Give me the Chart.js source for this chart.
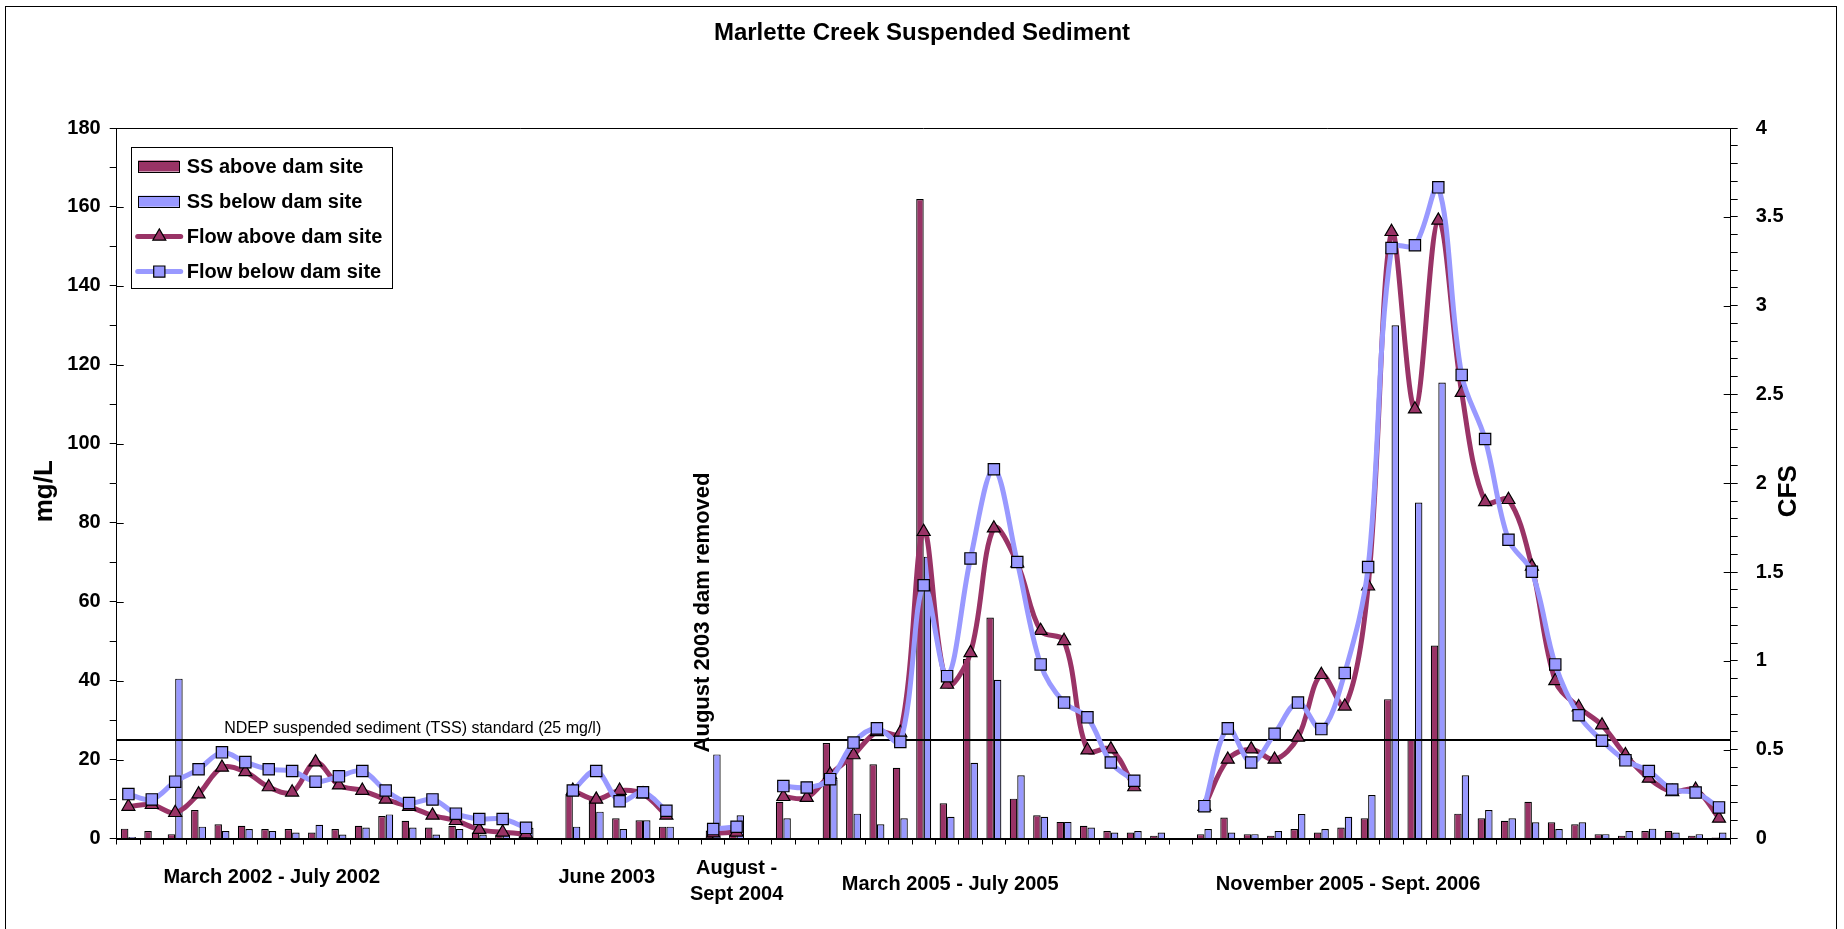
<!DOCTYPE html>
<html>
<head>
<meta charset="utf-8">
<title>Marlette Creek Suspended Sediment</title>
<script src="https://cdn.jsdelivr.net/npm/chart.js@4.4.1/dist/chart.umd.min.js"></script>
<style>
  html, body { margin: 0; padding: 0; background: #fff; }
  canvas { display: block; }
</style>
</head>
<body>
<canvas id="chart" width="1844" height="929"></canvas>
<script>
// ---- Data -------------------------------------------------------------
// One slot per sampling event; null marks the blank slots between seasons.
const sampleNo = Array.from({ length: 69 }, (_, i) => String(i + 1));

// Suspended sediment, mg/L
const ssAbove = [
  2.5, 1.9, 1.1, 7.2, 3.6, 3.2, 2.4, 2.4, 1.5, 2.4, 3.2, 5.7, 4.5, 2.8, 3.2, 1.5, 1.0, 1.0,
  null,
  11.0, 10.6, 5.1, 4.6, 3.0,
  null,
  2.0, 1.7,
  null,
  9.3, null, 24.2, 22.4, 18.8, 17.9, 162, 8.9, 45.5, 56.0, 10.1, 5.9, 4.2, 3.2, 1.9, 1.5, 0.7,
  null,
  1.1, 5.3, 1.1, 0.7, 2.4, 1.5, 2.8, 5.1, 35.3, 25.1, 48.9, 6.3, 5.1, 4.5, 9.3, 4.1, 3.6,
  1.1, 0.7, 1.9, 1.9, 0.7, 0.25
];
const ssBelow = [
  0.4, null, 40.5, 3.0, 1.9, 2.4, 1.9, 1.5, 3.5, 1.0, 2.8, 6.1, 2.8, 1.0, 2.4, 1.0, 1.0, 2.7,
  null,
  3.0, 6.8, 2.4, 4.6, 3.0,
  null,
  21.3, 5.9,
  null,
  5.1, null, 15.0, 6.3, 3.6, 5.1, 71.4, 5.5, 19.2, 40.2, 16.0, 5.5, 4.2, 2.8, 1.5, 1.9, 1.5,
  null,
  2.4, 1.5, 1.1, 1.9, 6.2, 2.4, 5.5, 11.0, 130.0, 85.1, 115.5, 16.0, 7.2, 5.1, 4.1, 2.4, 4.1,
  1.1, 1.9, 2.5, 1.5, 1.1, 1.5
];

// Stream flow, CFS
const flowAbove = [
  0.18, 0.19, 0.145, 0.25, 0.40, 0.375, 0.29, 0.26, 0.43, 0.30, 0.27, 0.22, 0.18, 0.13, 0.10, 0.05, 0.035, 0.025,
  null,
  0.27, 0.22, 0.27, 0.25, 0.13,
  null,
  0.03, 0.035,
  null,
  0.235, 0.23, 0.36, 0.47, 0.60, 0.595, 1.727, 0.867, 1.045, 1.747, 1.55, 1.17, 1.113, 0.497, 0.503, 0.29, null,
  null,
  0.18, 0.445, 0.503, 0.445, 0.569, 0.922, 0.744, 1.42, 3.416, 2.417, 3.48, 2.51, 1.895, 1.907, 1.532, 0.887, 0.74,
  0.638, 0.47, 0.338, 0.263, 0.276, 0.113
];
const flowBelow = [
  0.25, 0.22, 0.32, 0.39, 0.485, 0.43, 0.39, 0.38, 0.32, 0.35, 0.38, 0.27, 0.20, 0.22, 0.14, 0.11, 0.11, 0.06,
  null,
  0.27, 0.38, 0.21, 0.26, 0.156,
  null,
  0.053, 0.066,
  null,
  0.295, 0.287, 0.334, 0.54, 0.62, 0.544, 1.426, 0.914, 1.577, 2.079, 1.557, 0.98, 0.765, 0.682, 0.428, 0.325, null,
  null,
  0.182, 0.62, 0.428, 0.59, 0.765, 0.616, 0.932, 1.528, 3.324, 3.34, 3.666, 2.61, 2.249, 1.682, 1.502, 0.98, 0.694,
  0.55, 0.44, 0.38, 0.276, 0.259, 0.175
];

// Captions under the category axis, one per field season
const periodLabels = [
  ['March 2002 - July 2002'],
  ['June 2003'],
  ['August -', 'Sept 2004'],
  ['March 2005 - July 2005'],
  ['November 2005 - Sept. 2006']
];

// Axis tick labels
const mgTickLabels = ['0', '20', '40', '60', '80', '100', '120', '140', '160', '180'];
const cfsTickLabels = ['0', '0.5', '1', '1.5', '2', '2.5', '3', '3.5', '4'];

const ndepStandard = 25;   // mg/L
const ndepLabel = 'NDEP suspended sediment (TSS) standard (25 mg/l)';
const damNote = 'August 2003 dam removed';

// ---- Layout & style ---------------------------------------------------
const MAROON = '#993366';
const PERI = '#9999FF';
const FONT = '"Liberation Sans", Arial, Helvetica, sans-serif';

// where each caption sits: category slot and offset below the axis (px)
const periodLayout = [
  { slot: 6.13, rows: [38.5] },
  { slot: 20.45, rows: [38.5] },
  { slot: 26.0, rows: [29.5, 55.5] },
  { slot: 35.13, rows: [45.5] },
  { slot: 52.14, rows: [45.5] }
];

const mgTickValues = mgTickLabels.map(Number);
const cfsTickValues = cfsTickLabels.map(Number);

function nearly(v, list) {
  return list.findIndex(t => Math.abs(t - v) < 1e-6);
}

// white page with a thin frame round the chart object
const backdrop = {
  id: 'backdrop',
  beforeDraw(chart) {
    const { ctx, width, height } = chart;
    ctx.save();
    ctx.fillStyle = '#fff';
    ctx.fillRect(0, 0, width, height);
    ctx.strokeStyle = '#000';
    ctx.lineWidth = 1;
    ctx.strokeRect(5.5, 6.5, width - 13, height + 20);
    ctx.restore();
  }
};

// horizontal standard line: above the bars, below the flow lines
const standardLine = {
  id: 'standardLine',
  beforeDatasetDraw(chart, args) {
    if (args.index !== 2) return;
    const { ctx, chartArea: a, scales: { y } } = chart;
    const py = Math.round(y.getPixelForValue(ndepStandard));
    ctx.save();
    ctx.strokeStyle = '#000';
    ctx.lineWidth = 2;
    ctx.beginPath();
    ctx.moveTo(a.left, py);
    ctx.lineTo(a.right, py);
    ctx.stroke();
    ctx.fillStyle = '#000';
    ctx.font = '16px ' + FONT;
    ctx.textAlign = 'left';
    ctx.textBaseline = 'alphabetic';
    ctx.fillText(ndepLabel, a.left + 107.5, py - 7);
    ctx.restore();
  }
};

function drawMarker(ctx, style, x, y, fill) {
  ctx.save();
  ctx.fillStyle = fill;
  ctx.strokeStyle = '#000';
  ctx.lineWidth = 1.2;
  ctx.beginPath();
  if (style === 'triangle') {
    const r = 7.5;
    ctx.moveTo(x, y - r);
    ctx.lineTo(x + r * 0.866, y + r / 2);
    ctx.lineTo(x - r * 0.866, y + r / 2);
    ctx.closePath();
  } else {
    const h = 5.6;
    ctx.rect(x - h, y - h, 2 * h, 2 * h);
  }
  ctx.fill();
  ctx.stroke();
  ctx.restore();
}

// plot frame top, inner halves of major ticks, axis titles, notes, captions, legend
const decorations = {
  id: 'decorations',
  afterDraw(chart) {
    const { ctx, chartArea: a, scales: { x, y, y1 } } = chart;
    ctx.save();
    ctx.strokeStyle = '#000';
    ctx.lineWidth = 1;
    ctx.beginPath();
    ctx.moveTo(a.left, Math.round(a.top) + 0.5);
    ctx.lineTo(a.right, Math.round(a.top) + 0.5);
    for (const v of mgTickValues) {
      const py = Math.round(y.getPixelForValue(v)) + 0.5;
      ctx.moveTo(a.left, py);
      ctx.lineTo(a.left + 7, py);
    }
    for (const v of cfsTickValues) {
      const py = Math.round(y1.getPixelForValue(v)) + 0.5;
      ctx.moveTo(a.right - 7, py);
      ctx.lineTo(a.right, py);
    }
    ctx.stroke();

    ctx.fillStyle = '#000';
    ctx.textAlign = 'center';
    ctx.textBaseline = 'middle';
    const midY = (a.top + a.bottom) / 2;

    // axis titles, both read bottom to top
    ctx.font = 'bold 26px ' + FONT;
    ctx.save();
    ctx.translate(45, midY + 8);
    ctx.rotate(-Math.PI / 2);
    ctx.fillText('mg/L', 0, 0);
    ctx.restore();
    ctx.save();
    ctx.translate(1789, midY + 8);
    ctx.rotate(-Math.PI / 2);
    ctx.fillText('CFS', 0, 0);
    ctx.restore();

    // dam removal note, vertical
    ctx.save();
    ctx.font = 'bold 22px ' + FONT;
    ctx.translate(x.getPixelForValue(24.55), y.getPixelForValue(21.8));
    ctx.rotate(-Math.PI / 2);
    ctx.textAlign = 'left';
    ctx.fillText(damNote, 0, 0);
    ctx.restore();

    // season captions
    ctx.font = 'bold 20px ' + FONT;
    periodLabels.forEach((lines, i) => {
      const lay = periodLayout[i];
      const px = x.getPixelForValue(lay.slot);
      lines.forEach((t, j) => ctx.fillText(t, px, a.bottom + lay.rows[j]));
    });

    // legend
    const bx = a.left + 14, by = a.top + 19.3, bw = 261, bh = 141;
    ctx.fillStyle = '#fff';
    ctx.fillRect(bx, by, bw, bh);
    ctx.strokeStyle = '#000';
    ctx.lineWidth = 1;
    ctx.strokeRect(Math.round(bx) + 0.5, Math.round(by) + 0.5, bw, bh);
    ctx.font = 'bold 20px ' + FONT;
    ctx.textAlign = 'left';
    chart.data.datasets.forEach((ds, i) => {
      const cy = by + 18.7 + 35.2 * i;
      if (ds.type === 'bar') {
        ctx.fillStyle = ds.backgroundColor;
        ctx.fillRect(bx + 7.5, cy - 5.5, 41, 11);
        ctx.strokeStyle = '#000';
        ctx.lineWidth = 1;
        ctx.strokeRect(Math.round(bx + 7.5) + 0.5, Math.round(cy - 5.5) + 0.5, 41, 11);
      } else {
        ctx.strokeStyle = ds.borderColor;
        ctx.lineWidth = 5;
        ctx.lineCap = 'round';
        ctx.beginPath();
        ctx.moveTo(bx + 7, cy);
        ctx.lineTo(bx + 50, cy);
        ctx.stroke();
        drawMarker(ctx, ds.pointStyle, bx + 28.6, cy, ds.pointBackgroundColor);
      }
      ctx.fillStyle = '#000';
      ctx.fillText(ds.label, bx + 56, cy + 1);
    });
    ctx.restore();
  }
};

const tickFont = { family: FONT, size: 20, weight: 'bold' };

new Chart(document.getElementById('chart'), {
  type: 'bar',
  data: {
    labels: sampleNo,
    datasets: [
      {
        type: 'bar', label: 'SS above dam site', data: ssAbove, yAxisID: 'y',
        backgroundColor: MAROON, borderColor: '#000', borderWidth: 1.2,
        categoryPercentage: 0.64, barPercentage: 1, order: 3
      },
      {
        type: 'bar', label: 'SS below dam site', data: ssBelow, yAxisID: 'y',
        backgroundColor: PERI, borderColor: '#000', borderWidth: 1.2,
        categoryPercentage: 0.64, barPercentage: 1, order: 3
      },
      {
        type: 'line', label: 'Flow above dam site', data: flowAbove, yAxisID: 'y1',
        borderColor: MAROON, borderWidth: 5, tension: 0.35, spanGaps: false,
        borderCapStyle: 'round', borderJoinStyle: 'round',
        pointStyle: 'triangle', pointRadius: 7.5, pointBackgroundColor: MAROON,
        pointBorderColor: '#000', pointBorderWidth: 1.2, order: 2
      },
      {
        type: 'line', label: 'Flow below dam site', data: flowBelow, yAxisID: 'y1',
        borderColor: PERI, borderWidth: 5, tension: 0.35, spanGaps: false,
        borderCapStyle: 'round', borderJoinStyle: 'round',
        pointStyle: 'rect', pointRadius: 8, pointBackgroundColor: PERI,
        pointBorderColor: '#000', pointBorderWidth: 1.2, order: 1
      }
    ]
  },
  options: {
    responsive: false,
    animation: false,
    events: [],
    layout: { padding: 0 },
    plugins: {
      legend: { display: false },
      tooltip: { enabled: false },
      title: {
        display: true,
        text: 'Marlette Creek Suspended Sediment',
        color: '#000',
        font: { family: FONT, size: 24, weight: 'bold' },
        padding: { top: 19, bottom: 80.2 }
      }
    },
    scales: {
      x: {
        type: 'category',
        offset: true,
        ticks: { display: false, autoSkip: false },
        grid: { offset: true, drawOnChartArea: false, drawTicks: true, tickLength: 6, color: '#000', lineWidth: 1 },
        border: { display: true, color: '#000', width: 2 },
        afterFit(s) { s.height = 90.5; }
      },
      y: {
        position: 'left',
        min: 0, max: 180,
        ticks: {
          stepSize: 10, autoSkip: false, padding: 9, color: '#000', font: tickFont,
          callback: v => { const k = nearly(v, mgTickValues); return k < 0 ? '' : mgTickLabels[k]; }
        },
        grid: { drawOnChartArea: false, tickLength: 7, color: '#000', lineWidth: 1 },
        border: { display: true, color: '#000', width: 1 },
        afterFit(s) { s.width = 116.7; }
      },
      y1: {
        position: 'right',
        min: 0, max: 4,
        ticks: {
          stepSize: 0.1, autoSkip: false, padding: 18, color: '#000', font: tickFont,
          callback: v => { const k = nearly(v, cfsTickValues); return k < 0 ? '' : cfsTickLabels[k]; }
        },
        grid: { drawOnChartArea: false, tickLength: 7, color: '#000', lineWidth: 1 },
        border: { display: true, color: '#000', width: 1 },
        afterFit(s) { s.width = 113.3; }
      }
    }
  },
  plugins: [backdrop, standardLine, decorations]
});
</script>
</body>
</html>
